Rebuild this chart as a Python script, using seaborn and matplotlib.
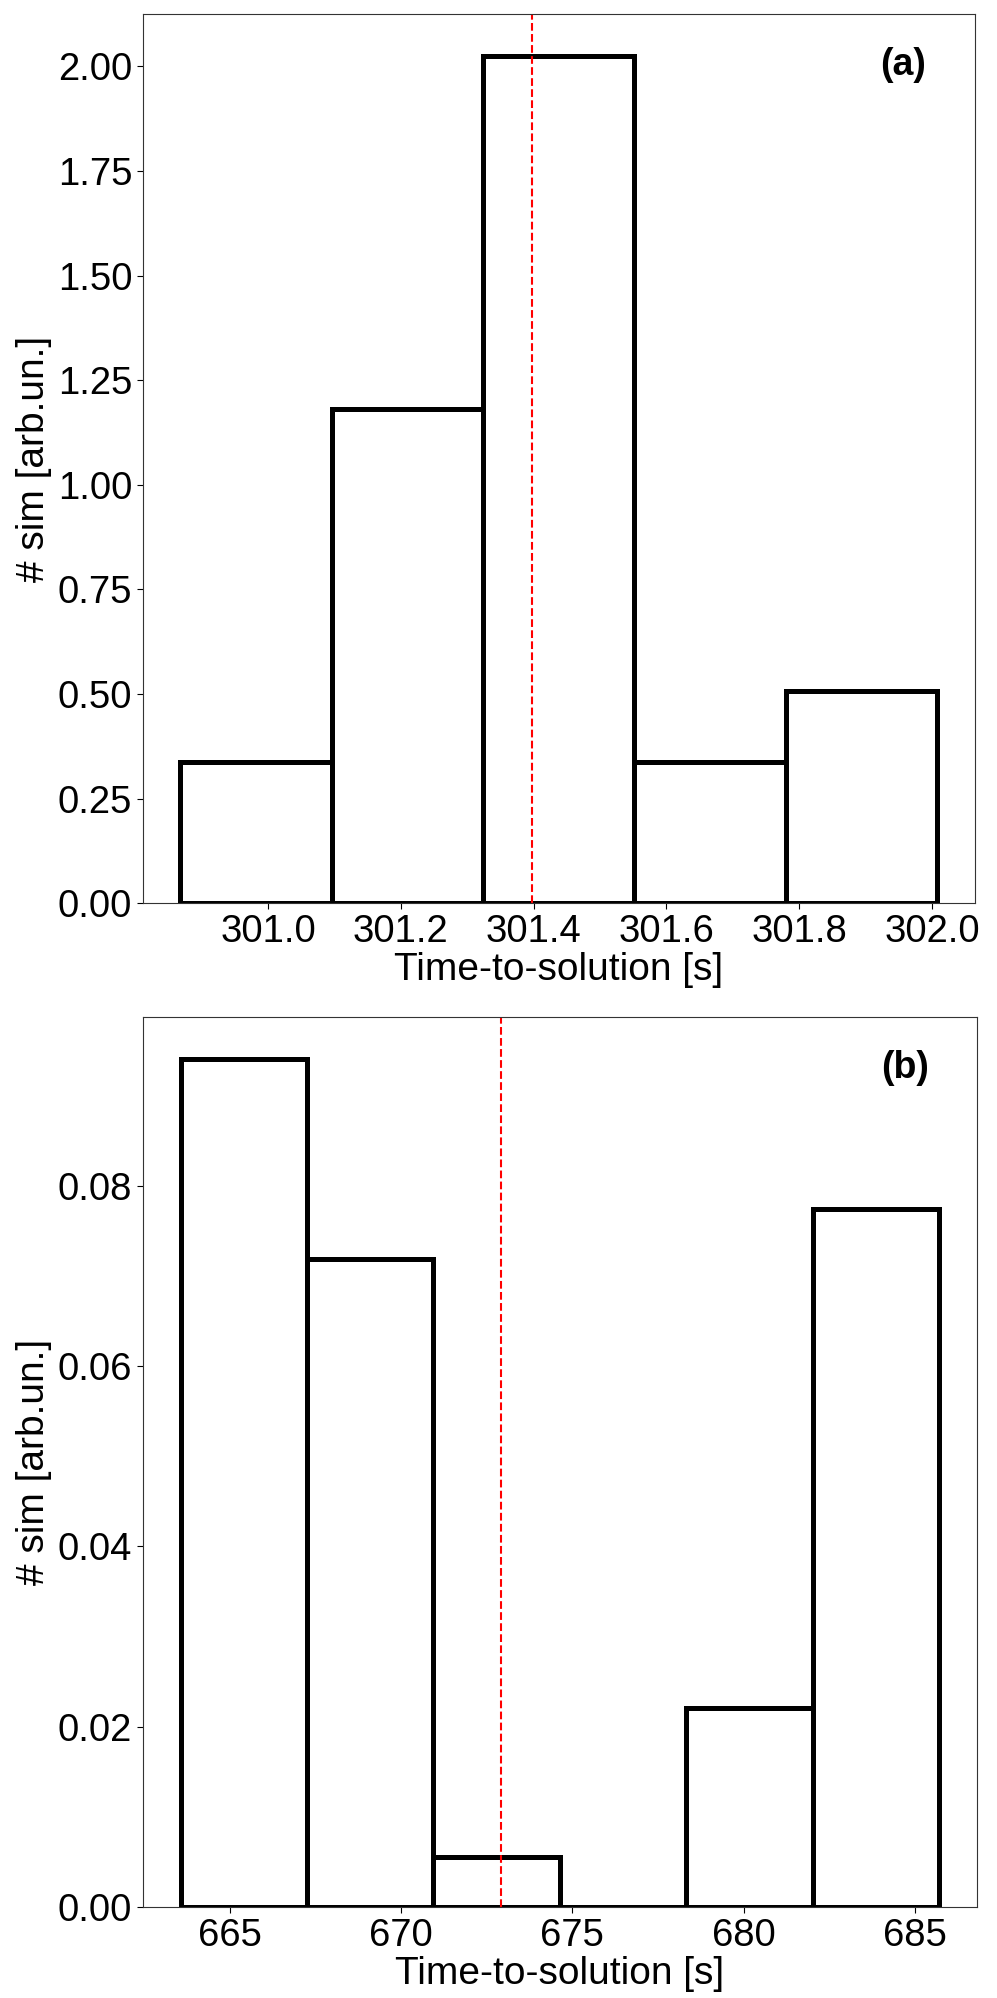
import matplotlib
matplotlib.use('Agg')
import matplotlib.pyplot as plt
import seaborn as sns

# panel (a): histogram bin edges, counts and reference time
edges_a = [300.868, 301.096, 301.324, 301.552, 301.780, 302.008]
counts_a = [2, 7, 12, 2, 3]
ref_a = 301.397

# panel (b)
edges_b = [663.56, 667.25, 670.94, 674.63, 678.33, 682.02, 685.71]
counts_b = [17, 13, 1, 0, 4, 14]
ref_b = 672.92

panel_labels = ['(a)', '(b)']

sns.set_theme(style='ticks')
plt.rcParams['font.family'] = ['Liberation Sans', 'DejaVu Sans']
plt.rcParams['text.color'] = 'black'
plt.rcParams['axes.labelcolor'] = 'black'
plt.rcParams['xtick.color'] = 'black'
plt.rcParams['ytick.color'] = 'black'

fig = plt.figure(figsize=(9.97, 19.98), dpi=100)
ax_a = fig.add_axes([0.143, 0.548, 0.835, 0.445])
ax_b = fig.add_axes([0.143, 0.0455, 0.837, 0.4455])


def draw_panel(ax, edges, counts, ref, label):
    centers = [(lo + hi) / 2 for lo, hi in zip(edges[:-1], edges[1:])]
    sns.histplot(
        x=centers,
        weights=counts,
        bins=edges,
        stat='density',
        fill=False,
        color='black',
        linewidth=3.6,
        ax=ax
    )
    ax.axvline(ref, color='red', linestyle='--', linewidth=1.5)
    ax.set_xlabel('Time-to-solution [s]', fontsize=28, labelpad=2)
    ax.set_ylabel('# sim [arb.un.]', fontsize=28, labelpad=4)
    ax.tick_params(labelsize=27.5, width=0.8, length=4)
    for spine in ax.spines.values():
        spine.set_linewidth(0.8)
        spine.set_color('#333333')
    ax.text(0.914, 0.943, label, transform=ax.transAxes, fontsize=27,
            fontweight='bold', ha='center', va='center')


draw_panel(ax_a, edges_a, counts_a, ref_a, panel_labels[0])
draw_panel(ax_b, edges_b, counts_b, ref_b, panel_labels[1])
ax_a.set_xticks([301.0, 301.2, 301.4, 301.6, 301.8, 302.0])
ax_b.set_xticks([665, 670, 675, 680, 685])

plt.savefig('out.png', dpi=100)
plt.close()
